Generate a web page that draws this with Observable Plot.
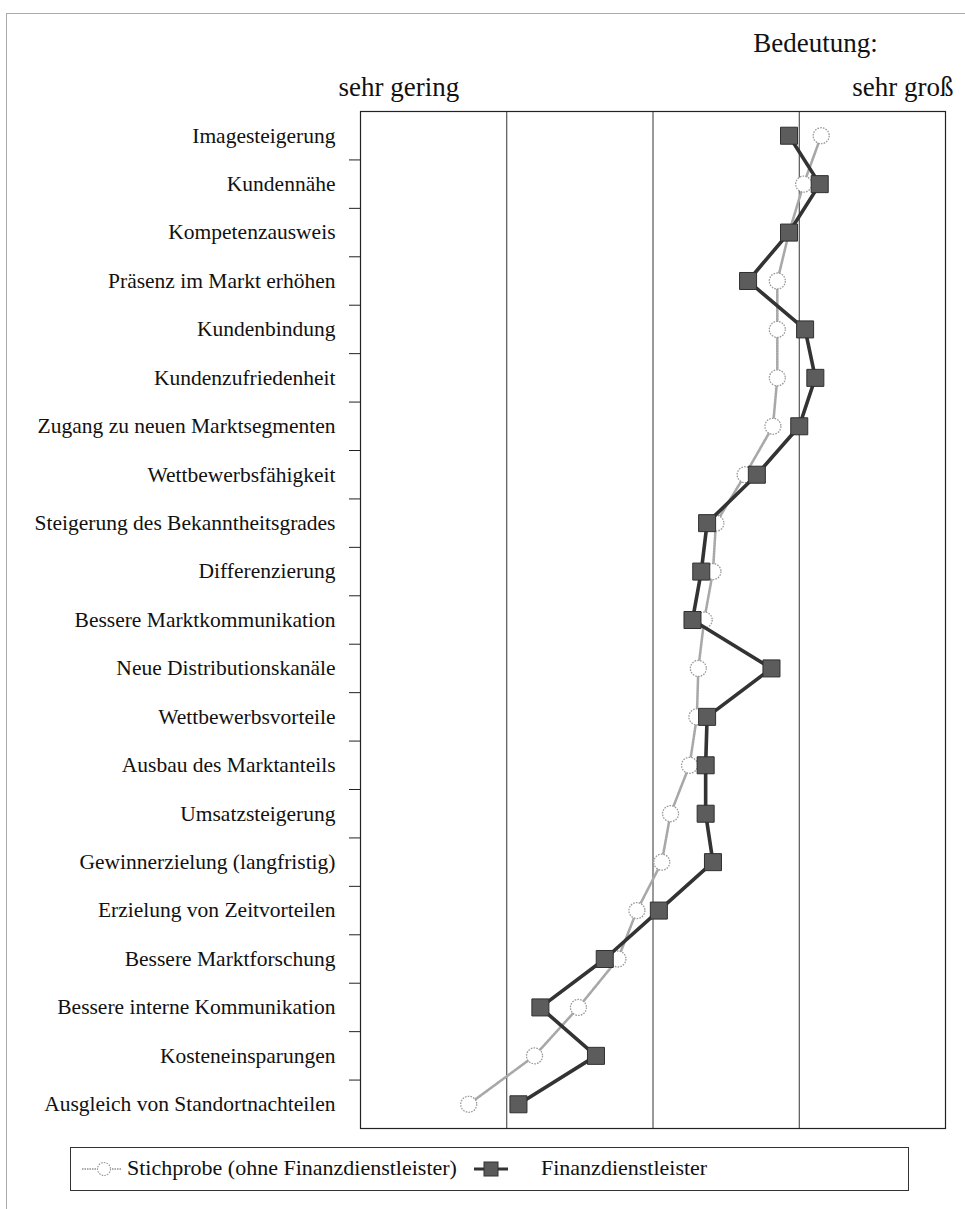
<!DOCTYPE html>
<html>
<head>
<meta charset="utf-8">
<script src="https://cdn.jsdelivr.net/npm/d3@7"></script>
<script src="https://cdn.jsdelivr.net/npm/@observablehq/plot@0.6"></script>
<style>
  html, body { margin: 0; padding: 0; background: #fff; }
  #page { position: relative; width: 965px; height: 1209px; overflow: hidden; font-family: "Liberation Serif", "DejaVu Serif", serif; color: #111; }
  #border { position: absolute; left: 6px; top: 13px; width: 965px; height: 1209px; border-left: 1px solid #aaa; border-top: 1px solid #aaa; }
  #chart { position: absolute; left: 0; top: 0; }
  #legend { position: absolute; left: 70px; top: 1147px; width: 839px; height: 44px; box-sizing: border-box; border: 1px solid #333; background: #fff; }
  #legend .lbl { position: absolute; top: 9px; font-size: 22px; line-height: 22px; white-space: nowrap; }
  #legend svg { position: absolute; left: 0; top: 0; }
</style>
</head>
<body>
<div id="page">
  <div id="border"></div>
  <div id="chart"></div>
  <div id="legend">
    <svg width="837" height="42">
      <line x1="11" y1="21" x2="50" y2="21" stroke="#aaa" stroke-width="2" stroke-dasharray="1.5,1"></line>
      <circle cx="33" cy="21" r="6.5" fill="#fff" stroke="#999" stroke-width="1.2" stroke-dasharray="1.5,1.2"></circle>
      <line x1="403" y1="21" x2="437" y2="21" stroke="#333" stroke-width="3"></line>
      <rect x="413" y="14" width="14" height="14" fill="#5a5a5a" stroke="#333" stroke-width="1"></rect>
    </svg>
    <span class="lbl" style="left:56px">Stichprobe (ohne Finanzdienstleister)</span>
    <span class="lbl" style="left:470px">Finanzdienstleister</span>
  </div>
</div>
<script>
const categories = [
  "Imagesteigerung",
  "Kundennähe",
  "Kompetenzausweis",
  "Präsenz im Markt erhöhen",
  "Kundenbindung",
  "Kundenzufriedenheit",
  "Zugang zu neuen Marktsegmenten",
  "Wettbewerbsfähigkeit",
  "Steigerung des Bekanntheitsgrades",
  "Differenzierung",
  "Bessere Marktkommunikation",
  "Neue Distributionskanäle",
  "Wettbewerbsvorteile",
  "Ausbau des Marktanteils",
  "Umsatzsteigerung",
  "Gewinnerzielung (langfristig)",
  "Erzielung von Zeitvorteilen",
  "Bessere Marktforschung",
  "Bessere interne Kommunikation",
  "Kosteneinsparungen",
  "Ausgleich von Standortnachteilen"
];
const stichprobe = [4.15, 4.03, 3.93, 3.85, 3.85, 3.85, 3.82, 3.63, 3.43, 3.41, 3.35, 3.31, 3.30, 3.25, 3.12, 3.06, 2.89, 2.76, 2.49, 2.19, 1.74];
const finanzdienstleister = [3.93, 4.14, 3.93, 3.65, 4.04, 4.11, 4.00, 3.71, 3.37, 3.33, 3.27, 3.81, 3.37, 3.36, 3.36, 3.41, 3.04, 2.67, 2.23, 2.61, 2.08];
const scaleLabels = ["sehr gering", "sehr groß"];
const title = "Bedeutung:";
const gridValues = [2, 3, 4];

const rowsS = categories.map((c, i) => ({i, cat: c, v: stichprobe[i]}));
const rowsF = categories.map((c, i) => ({i, cat: c, v: finanzdienstleister[i]}));
const FONT = "Liberation Serif, DejaVu Serif, serif";

const chart = Plot.plot({
  width: 965,
  height: 1135,
  marginLeft: 360,
  marginRight: 20,
  marginTop: 111,
  marginBottom: 7,
  style: {fontFamily: FONT, fontSize: "21.5px", color: "#111", background: "transparent"},
  x: {domain: [1, 5], axis: null},
  y: {domain: [-0.5, 20.5], reverse: true, label: null, axis: null},
  marks: [
    Plot.ruleX(gridValues, {stroke: "#333", strokeWidth: 1}),
    Plot.frame({stroke: "#222", strokeWidth: 1.2}),
    Plot.axisY({ticks: d3.range(21), tickFormat: i => categories[i], tickSize: 0, tickPadding: 25, label: null, fontSize: 21.5, fill: "#111"}),
    Plot.axisY({ticks: d3.range(0.5, 20, 1), tickFormat: () => "", tickSize: 11, label: null, stroke: "#222"}),
    Plot.line(rowsS, {x: "v", y: "i", stroke: "#a8a8a8", strokeWidth: 2.6, strokeDasharray: "1.6,1.1"}),
    Plot.dot(rowsS, {x: "v", y: "i", r: 8, fill: "#fff", stroke: "#9a9a9a", strokeWidth: 1.3, strokeDasharray: "1.6,1.2"}),
    Plot.line(rowsF, {x: "v", y: "i", stroke: "#333", strokeWidth: 3.6}),
    Plot.dot(rowsF, {x: "v", y: "i", symbol: "square", r: 9.6, fill: "#5c5c5c", stroke: "#303030", strokeWidth: 1}),
    Plot.text([scaleLabels[0]], {frameAnchor: "top-left", text: d => d, dx: -22, dy: -16, lineAnchor: "bottom", textAnchor: "start", fontSize: 27, fill: "#111"}),
    Plot.text([scaleLabels[1]], {frameAnchor: "top-right", text: d => d, dx: 8, dy: -16, lineAnchor: "bottom", textAnchor: "end", fontSize: 27, fill: "#111"}),
    Plot.text([title], {frameAnchor: "top-left", text: d => d, dx: 455, dy: -60, lineAnchor: "bottom", textAnchor: "middle", fontSize: 27, fill: "#111"})
  ]
});
document.getElementById("chart").appendChild(chart);
</script>
</body>
</html>
